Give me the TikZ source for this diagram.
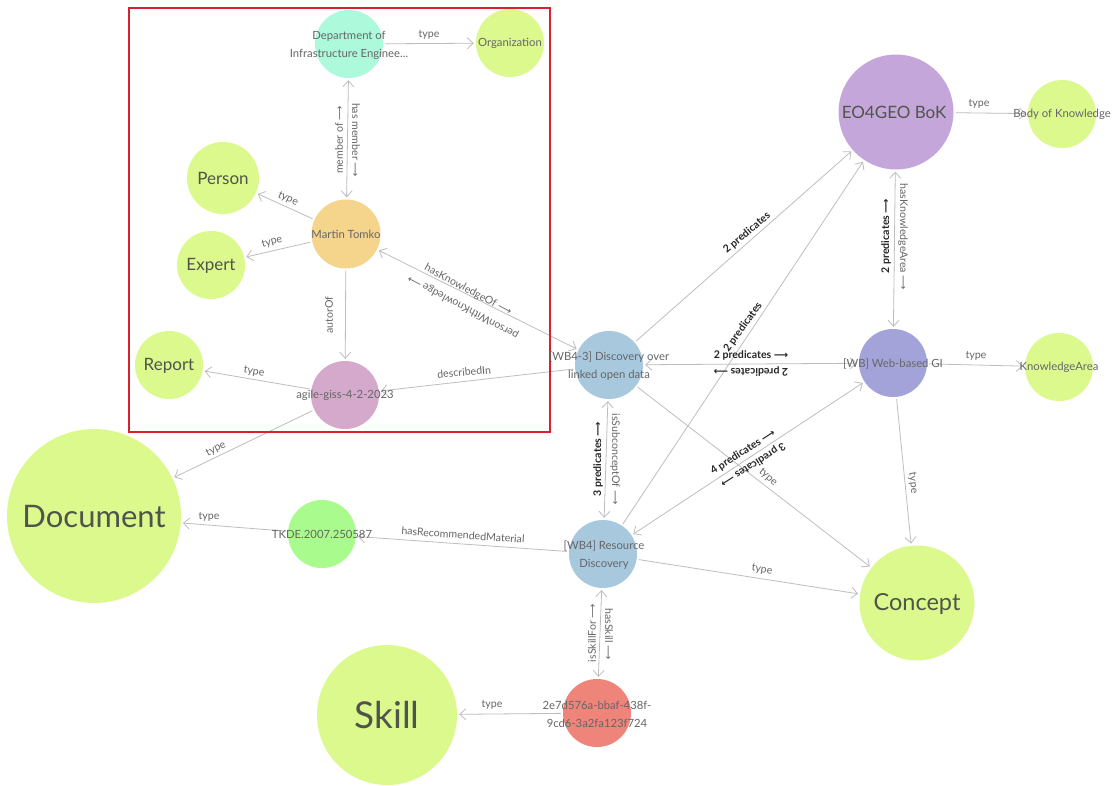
\documentclass[tikz,border=0pt]{standalone}
\usepackage{fontspec}
\setmainfont{Lato}
\newfontfamily\arrowfont{DejaVu Sans}
\newcommand{\arr}{{\arrowfont\fontsize{10}{13}\selectfont ⟶}}
\usetikzlibrary{arrows.meta}
\definecolor{lime}{HTML}{DCF98E}
\definecolor{edgec}{HTML}{BEBEBE}
\definecolor{txt}{HTML}{666666}
\definecolor{bigtxt}{HTML}{50554B}
\definecolor{redbox}{HTML}{D8212F}
\tikzset{
  circ/.style={circle,draw=none,inner sep=0pt,minimum size=#1},
  lab/.style={align=center,text=txt,inner sep=0pt,font=\fontsize{11.3}{18}\selectfont},
  biglab/.style={align=center,text=bigtxt,inner sep=0pt,font=\fontsize{#1}{#1}\selectfont},
  edg/.style={draw=edgec,line width=0.8pt,shorten >=2pt,shorten <=2pt,
    >={Straight Barb[length=6pt,width=11pt,line width=0.8pt]}},
  elab/.style={text=txt,inner sep=0pt,font=\fontsize{10.6}{13}\selectfont},
  plab/.style={text=black!85,inner sep=0pt,font=\fontsize{10.6}{13}\bfseries\selectfont},
}
\begin{document}
\begin{tikzpicture}[x=1pt,y=-1pt]
\useasboundingbox (0,0) rectangle (1114,785);
\fill[white] (0,0) rectangle (1114,785);
% circles
\node[circ=68pt,fill={rgb,255:red,173;green,249;blue,220}] (dept) at (349,44) {};
\node[circ=68pt,fill=lime] (org) at (510,43) {};
\node[circ=72pt,fill=lime] (person) at (223,178) {};
\node[circ=69pt,fill={rgb,255:red,245;green,212;blue,140}] (martin) at (346,234) {};
\node[circ=68pt,fill=lime] (expert) at (211,265) {};
\node[circ=68pt,fill=lime] (report) at (169,365) {};
\node[circ=68pt,fill={rgb,255:red,213;green,169;blue,203}] (agile) at (345,395) {};
\node[circ=68pt,fill={rgb,255:red,168;green,200;blue,222}] (wbf) at (609,365) {};
\node[circ=68pt,fill={rgb,255:red,164;green,163;blue,217}] (wb) at (893,363) {};
\node[circ=68pt,fill=lime] (ka) at (1059,367) {};
\node[circ=115pt,fill={rgb,255:red,196;green,166;blue,219}] (eo) at (896,112) {};
\node[circ=68pt,fill=lime] (bok) at (1062,114) {};
\node[circ=174pt,fill=lime] (doc) at (94,516) {};
\node[circ=68pt,fill={rgb,255:red,169;green,251;blue,142}] (tkde) at (322,534) {};
\node[circ=68pt,fill={rgb,255:red,168;green,200;blue,222}] (wbr) at (603,554) {};
\node[circ=115pt,fill=lime] (concept) at (917,603) {};
\node[circ=140pt,fill=lime] (skill) at (387,715) {};
\node[circ=68pt,fill={rgb,255:red,238;green,132;blue,122}] (uuid) at (597,713) {};
% edges
\draw[edg,->] (dept) -- (org);
\draw[edg,<->] (dept) -- (martin);
\draw[edg,->] (martin) -- (person);
\draw[edg,->] (martin) -- (expert);
\draw[edg,->] (martin) -- (agile);
\draw[edg,<->] (martin) -- (wbf);
\draw[edg,->] (agile) -- (report);
\draw[edg,->] (wbf) -- (agile);
\draw[edg,->] (agile) -- (doc);
\draw[edg,->] (tkde) -- (doc);
\draw[edg,->] (wbr) -- (tkde);
\draw[edg,->] (wbf) -- (eo);
\draw[edg,->] (wbr) -- (eo);
\draw[edg,<->] (wbf) -- (wb);
\draw[edg,<->] (wbf) -- (wbr);
\draw[edg,<->] (wbr) -- (wb);
\draw[edg,->] (wbf) -- (concept);
\draw[edg,->] (wbr) -- (concept);
\draw[edg,->] (wb) -- (concept);
\draw[edg,<->] (eo) -- (wb);
\draw[edg,->] (eo) -- (bok);
\draw[edg,->] (wb) -- (ka);
\draw[edg,<->] (uuid) -- (wbr);
\draw[edg,->] (uuid) -- (skill);
% red frame
\node[draw=redbox,line width=2.4pt,minimum width=421pt,minimum height=424pt,inner sep=0pt] (frame) at (339.5,220) {};
% node texts
\node[lab] (deptT) at (349,45) {Department of\\Infrastructure Enginee...};
\node[lab] (orgT) at (510,43.5) {Organization};
\node[biglab=17] (personT) at (223,178) {Person};
\node[lab] (martinT) at (346,234) {Martin Tomko};
\node[biglab=17] (expertT) at (211,266) {Expert};
\node[biglab=17] (reportT) at (169,366) {Report};
\node[lab] (agileT) at (345,395.5) {agile-giss-4-2-2023};
\node[lab] (wbfT) at (609,366) {[WB4-3] Discovery over\\linked open data};
\node[lab] (wbT) at (893,363.5) {[WB] Web-based GI};
\node[lab] (kaT) at (1059,367.5) {KnowledgeArea};
\node[biglab=17] (eoT) at (894,112) {EO4GEO BoK};
\node[lab] (bokT) at (1062,114) {Body of Knowledge};
\node[biglab=31] (docT) at (94,517) {Document};
\node[lab] (tkdeT) at (322,534.5) {TKDE.2007.250587};
\node[lab] (wbrT) at (604,555) {[WB4] Resource\\Discovery};
\node[biglab=23.5] (conceptT) at (917,604) {Concept};
\node[biglab=37] (skillT) at (387,715) {Skill};
\node[lab] (uuidT) at (597,714) {2e7d576a-bbaf-438f-\\9cd6-3a2fa123f724};
% edge labels
\node[elab] (l1) at (429,35) {type};
\node[elab,rotate=90] (l2) at (339,140) {member of \arr};
\node[elab,rotate=-90] (l3) at (356,140) {has member \arr};
\node[elab,rotate=-25] (l4) at (288,199) {type};
\node[elab,rotate=15] (l5) at (272,242) {type};
\node[elab,rotate=90] (l6) at (329,315) {autorOf};
\node[elab,rotate=-28] (l7) at (468,290) {hasKnowledgeOf \arr};
\node[elab,rotate=152] (l8) at (463,307) {personWithKnowledge \arr};
\node[elab,rotate=-9] (l9) at (254,372) {type};
\node[elab,rotate=5] (l10) at (464,372) {describedIn};
\node[elab,rotate=27] (l11) at (216,449) {type};
\node[elab] (l12) at (209,517) {type};
\node[elab,rotate=-4] (l13) at (463,535) {hasRecommendedMaterial};
\node[elab,rotate=-9] (l14) at (762,570) {type};
\node[plab,rotate=90] (l15) at (598,459) {3 predicates \arr};
\node[elab,rotate=-90] (l16) at (615,459) {isSubconceptOf \arr};
\node[elab,rotate=90] (l17) at (592,633) {isSkillFor \arr};
\node[elab,rotate=-90] (l18) at (609,634) {hasSkill \arr};
\node[elab] (l19) at (492,705) {type};
\node[plab,rotate=40] (l20) at (747,233) {2 predicates};
\node[plab,rotate=54] (l21) at (743,327) {2 predicates};
\node[plab] (l22) at (751,355) {2 predicates \arr};
\node[plab,rotate=180] (l23) at (751,372) {2 predicates \arr};
\node[plab,rotate=33] (l24) at (743,452) {4 predicates \arr};
\node[plab,rotate=213] (l25) at (753,465) {3 predicates \arr};
\node[elab,rotate=-42] (l26) at (768,477) {type};
\node[elab,rotate=-84] (l27) at (913,483) {type};
\node[plab,rotate=90] (l28) at (886,236) {2 predicates \arr};
\node[elab,rotate=-90] (l29) at (903,237) {hasKnowledgeArea \arr};
\node[elab] (l30) at (979,104) {type};
\node[elab,rotate=-2] (l31) at (976,356) {type};
\end{tikzpicture}
\end{document}
